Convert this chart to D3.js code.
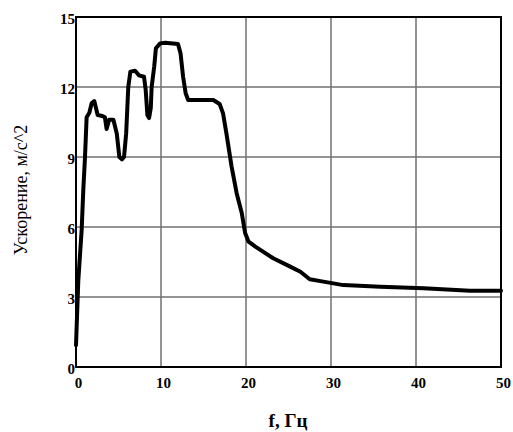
<!DOCTYPE html>
<html>
<head>
<meta charset="utf-8">
<script src="https://cdn.jsdelivr.net/npm/d3@7"></script>
<style>
  body { margin: 0; background: #fff; }
  svg text { font-family: "Liberation Serif", "DejaVu Serif", serif; }
</style>
</head>
<body>
<svg id="chart" width="513" height="432"></svg>
<script>
'use strict'

// частота, Гц
const freq = [0, 0.27, 0.67, 0.86, 1.06, 1.25, 1.57, 1.84, 2.15, 2.35, 2.55, 3.1, 3.4, 3.6, 3.9, 4.4, 4.8, 5.1, 5.4, 5.65, 5.9, 6.15, 6.4, 6.95, 7.4, 8.0, 8.2, 8.4, 8.6, 8.8, 8.9, 9.2, 9.4, 9.9, 10.5, 12.0, 12.3, 12.6, 12.9, 13.2, 16.15, 16.9, 17.3, 17.7, 18.3, 18.9, 19.5, 19.9, 20.3, 21.1, 23.2, 25.2, 26.4, 27.5, 29.1, 31.45, 35.8, 40.9, 46.35, 50]
// ускорение, м/с^2
const accel = [0.94, 3.7, 5.9, 7.6, 9.0, 10.7, 10.9, 11.3, 11.4, 11.1, 10.8, 10.76, 10.7, 10.2, 10.6, 10.6, 10.0, 9.0, 8.9, 9.0, 10.0, 12.0, 12.66, 12.7, 12.5, 12.44, 11.87, 10.8, 10.67, 11.1, 12.0, 12.87, 13.66, 13.87, 13.9, 13.84, 13.44, 12.44, 11.73, 11.44, 11.44, 11.27, 10.87, 10.0, 8.6, 7.45, 6.6, 5.74, 5.37, 5.16, 4.66, 4.3, 4.08, 3.76, 3.66, 3.51, 3.44, 3.37, 3.27, 3.27]

const xTicks = [0, 10, 20, 30, 40, 50]
const yTicks = [0, 3, 6, 9, 12, 15]

const xTitle = 'f, Гц'
const yTitle = 'Ускорение, м/с^2'

const svg = d3.select('#chart')
const pL = 76, pR = 501, pT = 17, pB = 367

const x = d3.scaleLinear().domain([0, 50]).range([pL, pR])
const y = d3.scaleLinear().domain([0, 15]).range([pB, pT])

// сетка
svg.append('g')
  .selectAll('line')
  .data(xTicks.slice(1, -1))
  .join('line')
  .attr('x1', d => x(d)).attr('x2', d => x(d))
  .attr('y1', pT).attr('y2', pB)
  .attr('stroke', '#707070').attr('stroke-width', 1.5)

svg.append('g')
  .selectAll('line')
  .data(yTicks.slice(1, -1))
  .join('line')
  .attr('x1', pL).attr('x2', pR)
  .attr('y1', d => y(d)).attr('y2', d => y(d))
  .attr('stroke', '#707070').attr('stroke-width', 1.5)

// рамка
svg.append('rect')
  .attr('x', pL).attr('y', pT)
  .attr('width', pR - pL).attr('height', pB - pT)
  .attr('fill', 'none').attr('stroke', '#000').attr('stroke-width', 2)

// оси
const xAxis = svg.append('g')
  .attr('transform', `translate(2,${pB})`)
  .call(d3.axisBottom(x).tickValues(xTicks).tickSize(0).tickPadding(10).tickFormat(d3.format('d')))
const yAxis = svg.append('g')
  .attr('transform', `translate(${pL},2)`)
  .call(d3.axisLeft(y).tickValues(yTicks).tickSize(0).tickPadding(1).tickFormat(d3.format('d')))

xAxis.select('.domain').remove()
yAxis.select('.domain').remove()
svg.selectAll('.tick text')
  .attr('font-family', '"Liberation Serif", serif')
  .attr('font-size', 15)
  .attr('font-weight', 'bold')
  .attr('fill', '#000')

// кривая
const line = d3.line()
  .x((d, i) => x(freq[i]))
  .y(d => y(d))
  .curve(d3.curveLinear)

svg.append('path')
  .datum(accel)
  .attr('d', line)
  .attr('fill', 'none')
  .attr('stroke', '#000')
  .attr('stroke-width', 4)
  .attr('stroke-linejoin', 'round')
  .attr('stroke-linecap', 'round')

// подписи осей
svg.append('text')
  .attr('x', 288).attr('y', 427)
  .attr('text-anchor', 'middle')
  .attr('font-size', 19)
  .attr('font-weight', 'bold')
  .attr('fill', '#000')
  .text(xTitle)

svg.append('text')
  .attr('transform', 'translate(27,190) rotate(-90)')
  .attr('text-anchor', 'middle')
  .attr('font-size', 18)
  .attr('fill', '#000')
  .text(yTitle)
</script>
</body>
</html>
